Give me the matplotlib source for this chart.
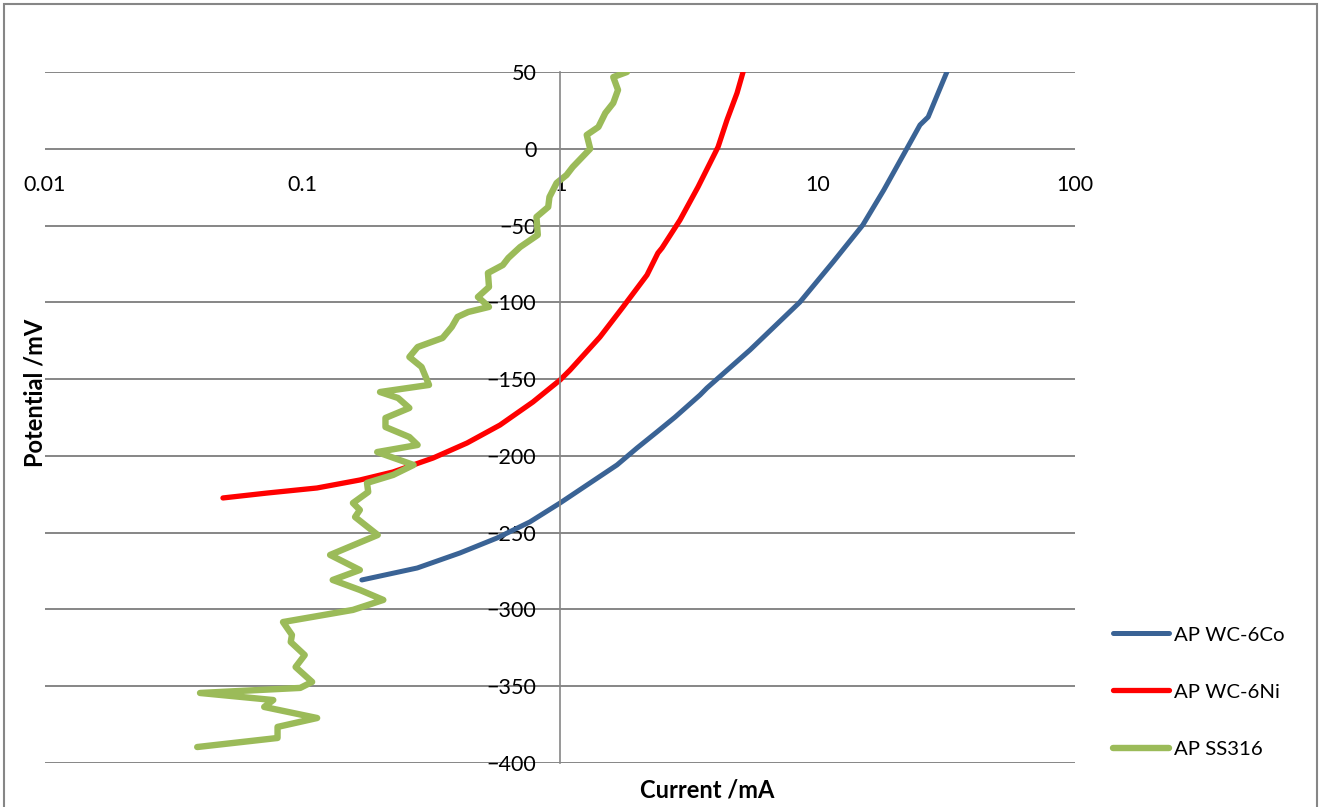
'''
Polarisation curves: potential vs current (log scale) for three samples
'''
import matplotlib.pyplot as plt
from matplotlib.patches import Rectangle

plt.rcParams['font.family'] = ['Lato', 'DejaVu Sans']

# AP WC-6Co
co_current = [0.170, 0.279, 0.409, 0.569, 0.764, 1.0, 1.309, 1.665, 1.99, 2.38,
              2.80, 3.50, 3.72, 5.47, 8.55, 11.5, 15.0, 18.1, 22.3, 25.0,
              26.9, 29.4, 31.8]
co_potential = [-280.8, -273, -263.2, -253.5, -243, -230.7, -217.6, -205.9, -194.9, -184.4,
                -174.7, -160.3, -155.8, -131, -99.8, -73.7, -49.6, -26.8, 0.5, 15.5,
                20.7, 36.3, 50]

# AP WC-6Ni
ni_current = [0.0491, 0.0728, 0.1138, 0.167, 0.2244, 0.3213, 0.4356, 0.5848, 0.785, 1.0,
              1.094, 1.429, 1.757, 2.177, 2.40, 2.49, 2.924, 3.435, 4.11, 4.45,
              4.87, 5.14]
ni_potential = [-227.4, -224.2, -220.9, -215.7, -210.5, -201.4, -191.6, -179.9, -164.9, -150.6,
                -144.1, -122.6, -103, -82.2, -67.9, -64.6, -46.4, -24.9, 1.2, 18.7,
                36.3, 50]

# AP SS316
ss_current = [1.82, 1.61, 1.68, 1.61, 1.50, 1.41, 1.27, 1.31, 1.12, 1.06,
              0.97, 0.91, 0.90, 0.81, 0.82, 0.70, 0.63, 0.60, 0.525, 0.53,
              0.48, 0.53, 0.44, 0.40, 0.38, 0.35, 0.28, 0.26, 0.29, 0.31,
              0.20, 0.235, 0.26, 0.21, 0.21, 0.26, 0.28, 0.195, 0.27, 0.225,
              0.178, 0.18, 0.157, 0.167, 0.16, 0.196, 0.128, 0.167, 0.131, 0.167,
              0.206, 0.157, 0.084, 0.091, 0.090, 0.102, 0.094, 0.109, 0.098, 0.040,
              0.077, 0.071, 0.114, 0.080, 0.080, 0.039]
ss_potential = [50, 46.7, 38.3, 29.8, 23.3, 14.2, 9, 0, -11.9, -17.1,
                -22.3, -31.4, -37.9, -44.4, -56.1, -64, -71.1, -75.7, -80.9, -90,
                -96.5, -103, -106.3, -109.5, -116, -123.2, -129.1, -135.6, -142.1, -153.8,
                -158.4, -162.3, -168.8, -175.3, -181.2, -187.7, -192.9, -197.5, -205.9, -212.4,
                -217.6, -223.5, -230.7, -235.2, -239.8, -251.5, -264.5, -274.3, -280.8, -287.3,
                -293.8, -300.3, -308.2, -316.6, -321.2, -329.7, -337.5, -347.2, -351.1, -354.4,
                -359, -363.5, -370.7, -376.5, -383.7, -389.6]

x_ticks = [0.01, 0.1, 1, 10, 100]
x_tick_labels = ['0.01', '0.1', '1', '10', '100']
y_ticks = [-400, -350, -300, -250, -200, -150, -100, -50, 0, 50]

fig = plt.figure(figsize=(13.22, 8.07), dpi=100)
ax = fig.add_axes([45/1322, 44/807, 1030/1322, 691/807])

ax.plot(co_current, co_potential, color='#3A6395', lw=3.6,
        solid_capstyle='round', solid_joinstyle='round', label='AP WC-6Co')
ax.plot(ni_current, ni_potential, color='#FF0000', lw=3.8,
        solid_capstyle='round', solid_joinstyle='round', label='AP WC-6Ni')
ax.plot(ss_current, ss_potential, color='#9BBB59', lw=4.6,
        solid_capstyle='round', solid_joinstyle='round', label='AP SS316')

ax.set_xscale('log')
ax.set_xlim(0.01, 100)
ax.set_ylim(-400, 50)
ax.set_xticks(x_ticks)
ax.set_xticklabels(x_tick_labels)
ax.minorticks_off()
ax.set_yticks(y_ticks)

# axes cross at x=1 and y=0
ax.spines['left'].set_position(('data', 1))
ax.spines['left'].set_color('#868686')
ax.spines['left'].set_linewidth(1.2)
ax.spines['bottom'].set_position(('data', 0))
ax.spines['bottom'].set_visible(False)
ax.spines['top'].set_visible(False)
ax.spines['right'].set_visible(False)

ax.grid(True, axis='y', color='#868686', linewidth=1.4)
ax.set_axisbelow(True)
ax.tick_params(axis='both', length=0, labelsize=15.5)
ax.tick_params(axis='y', pad=17)
ax.tick_params(axis='x', pad=19)

fig.text(35/1322, 1 - 393/807, 'Potential /mV', rotation=90, fontsize=17,
         fontweight='bold', ha='center', va='center')
fig.text(707/1322, 1 - 790/807, 'Current /mA', fontsize=17,
         fontweight='bold', ha='center', va='center')

ax.legend(loc='center left', bbox_to_anchor=(1113/1322, 1 - 692/807),
          bbox_transform=fig.transFigure, frameon=False, fontsize=14.7,
          labelspacing=1.95, handlelength=2.75, handletextpad=0.25,
          borderpad=0, borderaxespad=0)

# chart border
fig.patches.append(Rectangle((4/1322, -0.05), 1313/1322, 1.05 - 4/807,
                             transform=fig.transFigure, fill=False,
                             edgecolor='#868686', linewidth=1.5))

fig.savefig('out.png', dpi=100)
